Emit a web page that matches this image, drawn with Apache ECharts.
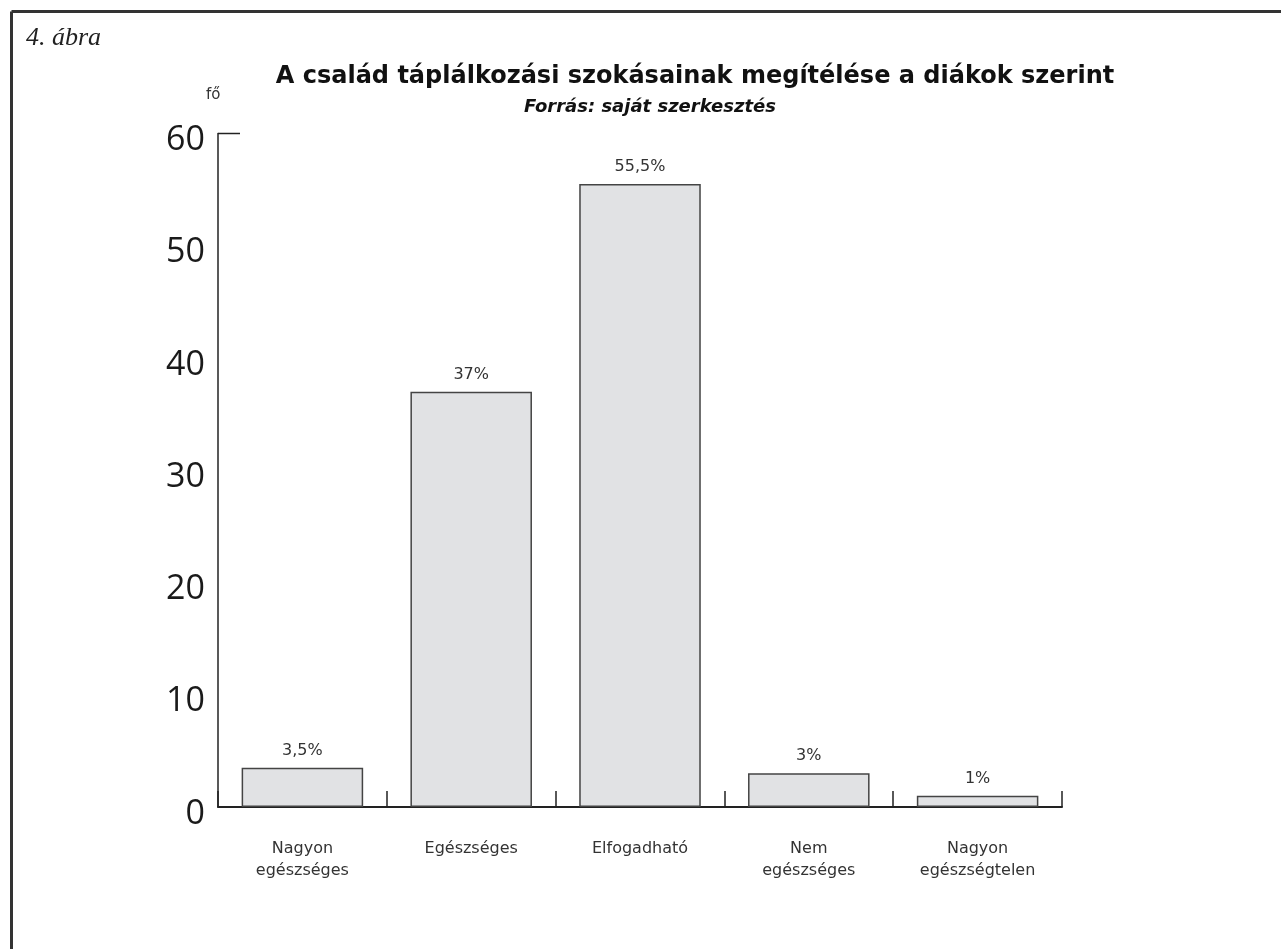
<!DOCTYPE html>
<html>
<head>
<meta charset="utf-8">
<script src="https://cdn.jsdelivr.net/npm/echarts@6/dist/echarts.min.js"></script>
<style>
  html, body { margin: 0; padding: 0; background: #fff; }
  #chart { width: 1281px; height: 949px; }
</style>
</head>
<body>
<div id="chart"></div>
<script>
// Survey answers: how students rate their family's eating habits
const categories = ['Nagyon\negészséges', 'Egészséges', 'Elfogadható', 'Nem\negészséges', 'Nagyon\negészségtelen'];
const values = [3.5, 37, 55.5, 3, 1];
const yTicks = [0, 10, 20, 30, 40, 50, 60];

const figureLabel = '4. ábra';
const titleText = 'A család táplálkozási szokásainak megítélése a diákok szerint';
const subtitleText = 'Forrás: saját szerkesztés';
const yUnit = 'fő';

const sans = '"DejaVu Sans", sans-serif';
const ink = '#222';

const chart = echarts.init(document.getElementById('chart'), null, { renderer: 'canvas' });

const pctLabel = v => String(v).replace('.', ',') + '%';

chart.setOption({
  animation: false,
  backgroundColor: '#fff',
  title: [
    {
      text: titleText,
      left: 690, top: 60, textAlign: 'center',
      textStyle: { fontFamily: sans, fontWeight: 'bold', fontSize: 24, color: '#111' }
    },
    {
      text: subtitleText,
      left: 645, top: 93, textAlign: 'center',
      textStyle: { fontFamily: sans, fontWeight: 'bold', fontStyle: 'italic', fontSize: 18, color: '#111' }
    }
  ],
  grid: { left: 218, right: 219, top: 133.5, bottom: 142, containLabel: false },
  xAxis: {
    type: 'category',
    data: categories,
    boundaryGap: true,
    axisLine: { lineStyle: { color: ink, width: 2 } },
    axisTick: { show: true, inside: true, length: 16, interval: 0, lineStyle: { color: ink, width: 1.5 } },
    axisLabel: {
      interval: 0, margin: 31, color: '#333', fontFamily: sans, fontSize: 16, lineHeight: 22
    }
  },
  yAxis: {
    type: 'value',
    min: 0, max: 60, interval: 10,
    axisLine: { show: true, lineStyle: { color: ink, width: 1.5 } },
    axisTick: { show: false },
    splitLine: { show: false },
    axisLabel: {
      margin: 13, color: '#1a1a1a', fontFamily: '"Open Sans", sans-serif', fontSize: 34,
      verticalAlign: 'top', lineHeight: 14,
      formatter: v => (yTicks.includes(v) ? String(v) : '')
    }
  },
  series: [{
    type: 'bar',
    data: values,
    barWidth: '72%',
    itemStyle: { color: '#e1e2e4', borderColor: '#444', borderWidth: 1.5 },
    label: {
      show: true, position: 'top', distance: 9,
      color: '#333', fontFamily: sans, fontSize: 16,
      formatter: p => pctLabel(p.value)
    }
  }]
});

// Frame, figure number, unit label and the cap on top of the value axis
function drawExtras() {
  const top = chart.convertToPixel({ yAxisIndex: 0 }, 60);
  const axisX = 218;
  chart.setOption({
    graphic: [
      { type: 'line', shape: { x1: 11.5, y1: 11.5, x2: 1281, y2: 11.5 }, style: { stroke: '#333', lineWidth: 3 } },
      { type: 'line', shape: { x1: 11.5, y1: 11.5, x2: 11.5, y2: 949 }, style: { stroke: '#333', lineWidth: 3 } },
      { type: 'text', left: 26, top: 25, style: { text: figureLabel, font: 'italic 26px "Liberation Serif", serif', fill: '#222' } },
      { type: 'text', left: 206, top: 88, style: { text: yUnit, font: '15px ' + sans, fill: '#333' } },
      { type: 'line', shape: { x1: axisX, y1: top, x2: axisX + 22, y2: top }, style: { stroke: ink, lineWidth: 1.5 } }
    ]
  });
}
drawExtras();
</script>
</body>
</html>
